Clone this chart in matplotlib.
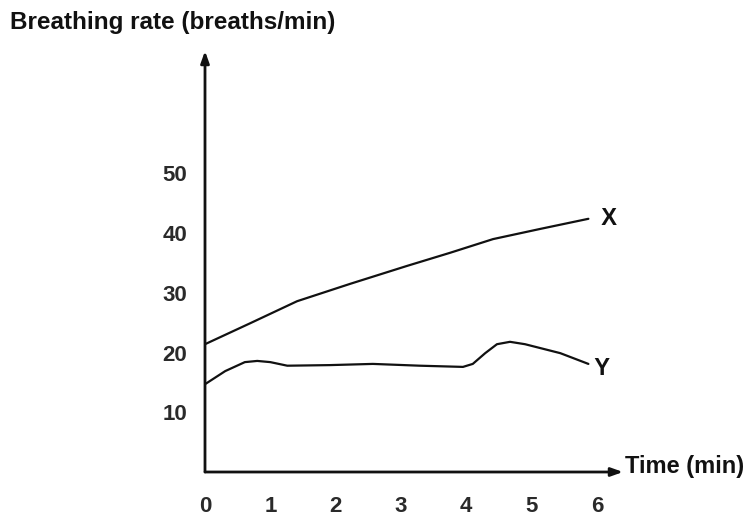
import matplotlib.pyplot as plt

plt.rcParams['font.family'] = ['Liberation Sans', 'DejaVu Sans']

# datos (tiempo en min, frecuencia en respiraciones/min)
tiempo_x = [0, 0.69, 1.41, 2.22, 3.09, 3.75, 4.41, 5.13, 5.87]
tasa_x = [21.4, 24.9, 28.6, 31.5, 34.5, 36.7, 39.0, 40.7, 42.4]

tiempo_y = [0, 0.31, 0.61, 0.80, 1.0, 1.26, 1.91, 2.57, 3.29, 3.95, 4.10,
            4.29, 4.47, 4.67, 4.90, 5.44, 5.87]
tasa_y = [14.7, 16.9, 18.4, 18.6, 18.4, 17.8, 17.9, 18.1, 17.8, 17.6, 18.1,
          19.9, 21.4, 21.8, 21.4, 19.9, 18.1]

ticks_tiempo = [0, 1, 2, 3, 4, 5, 6]
ticks_tasa = [10, 20, 30, 40, 50]

W, H = 751, 524
fig = plt.figure(figsize=(W / 100, H / 100), dpi=100)
x0, y0 = 205, 472
x1, y1 = 623, 51
ax = fig.add_axes([x0 / W, 1 - y0 / H, (x1 - x0) / W, (y0 - y1) / H])
ax.set_xlim(0, 6.4)
ax.set_ylim(0, 70.5)
for sp in ax.spines.values():
    sp.set_visible(False)

negro = '#111111'
ax.plot(tiempo_x, tasa_x, color=negro, linewidth=1.6, solid_capstyle='round')
ax.plot(tiempo_y, tasa_y, color=negro, linewidth=1.6, solid_capstyle='round')

# ejes con flechas
flecha = dict(arrowstyle='-|>,head_length=0.7,head_width=0.25', color=negro,
              linewidth=2, shrinkA=0, shrinkB=0)
ax.annotate('', xy=(6.4, 0), xytext=(0, 0), arrowprops=flecha, annotation_clip=False)
ax.annotate('', xy=(0, 70.5), xytext=(0, 0), arrowprops=flecha, annotation_clip=False)

ax.set_xticks(ticks_tiempo)
ax.set_xticklabels([str(t) for t in ticks_tiempo])
ax.set_yticks(ticks_tasa)
ax.set_yticklabels([str(t) for t in ticks_tasa])
ax.tick_params(axis='both', length=0, labelcolor='#2a2a2a')
ax.tick_params(axis='x', pad=17, labelsize=16)
ax.tick_params(axis='y', pad=13, labelsize=16)
for lab in ax.get_xticklabels() + ax.get_yticklabels():
    lab.set_fontweight('bold')

ax.text(tiempo_x[-1], tasa_x[-1], '  X', ha='left', va='center', fontsize=17,
        fontweight='bold', color=negro)
ax.text(tiempo_y[-1], tasa_y[-1] - 0.8, ' Y', ha='left', va='center', fontsize=17,
        fontweight='bold', color=negro)

fig.text(10 / W, 1 - 23 / H, 'Breathing rate (breaths/min)', ha='left', va='center',
         fontsize=17.5, fontweight='bold', color=negro)
fig.text(625 / W, 1 - 467 / H, 'Time (min)', ha='left', va='center',
         fontsize=17, fontweight='bold', color=negro)

fig.savefig('out.png', dpi=100, facecolor='white')
